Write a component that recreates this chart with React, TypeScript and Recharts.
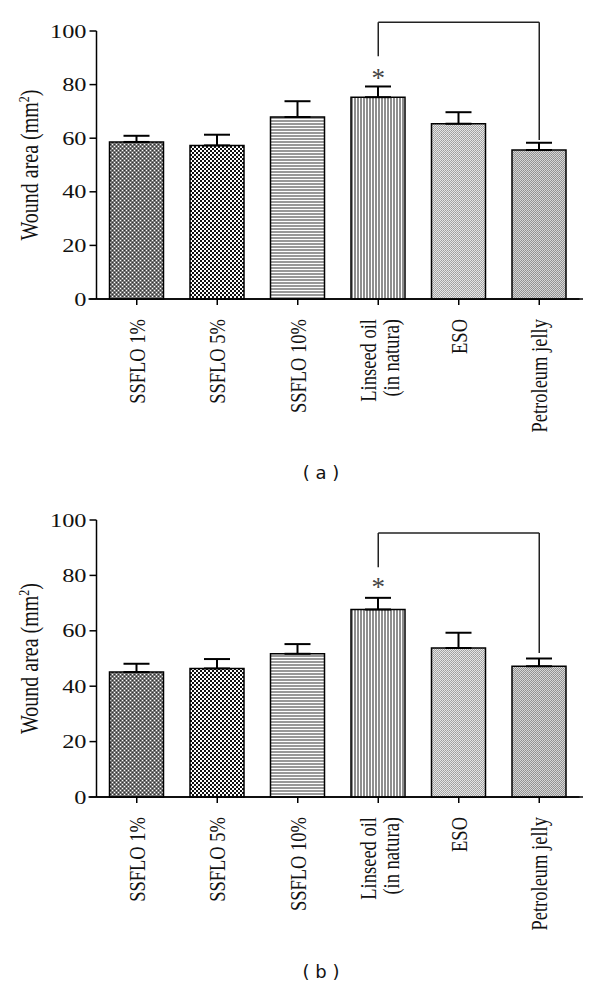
import React from "react";
import {
  Bar,
  BarChart,
  Cell,
  ErrorBar,
  ReferenceDot,
  ReferenceLine,
  XAxis,
  YAxis,
} from "recharts";

const categories = [
  "SSFLO 1%",
  "SSFLO 5%",
  "SSFLO 10%",
  "Linseed oil\n(in natura)",
  "ESO",
  "Petroleum jelly",
];
const yTicks = [0, 20, 40, 60, 80, 100];

// panel (a)
const areaA = [58.6, 57.3, 67.9, 75.3, 65.4, 55.6];
const errA = [2.3, 4.0, 5.9, 4.0, 4.3, 2.7];
// bracket: [top, left foot, right foot], then asterisk height
const bracketA = [103.3, 90.6, 59.3];
const starA = 84.1;

// panel (b)
const areaB = [45.1, 46.4, 51.7, 67.7, 53.8, 47.2];
const errB = [3.0, 3.4, 3.5, 4.2, 5.5, 2.8];
const bracketB = [95.3, 82.9, 52.0];
const starB = 77.2;

const SERIF = '"Liberation Serif", "Times New Roman", serif';
const STRETCH = 1.25;
const CHART_W = 600;
const CHART_H = 470;
const XAXIS_H = 150;
const YAXIS_W = 96.5;

function Patterns({ id }: { id: string }) {
  return (
    <defs>
      <pattern id={`${id}-0`} width={4} height={4} patternUnits="userSpaceOnUse">
        <rect width={4} height={4} fill="#777" />
        <rect x={0} y={0} width={1} height={1} fill="#fff" />
        <rect x={2} y={2} width={1} height={1} fill="#fff" />
        <rect x={2} y={0} width={1} height={1} fill="#333" />
        <rect x={0} y={2} width={1} height={1} fill="#333" />
      </pattern>
      <pattern id={`${id}-1`} width={4} height={4} patternUnits="userSpaceOnUse">
        <rect width={4} height={4} fill="#fff" />
        <rect x={0} y={0} width={2} height={2} fill="#111" />
        <rect x={2} y={2} width={2} height={2} fill="#111" />
      </pattern>
      <pattern id={`${id}-2`} width={4} height={3} patternUnits="userSpaceOnUse">
        <rect width={4} height={3} fill="#fff" />
        <rect x={0} y={0} width={4} height={2} fill="#999" />
      </pattern>
      <pattern id={`${id}-3`} width={3} height={4} patternUnits="userSpaceOnUse">
        <rect width={3} height={4} fill="#fff" />
        <rect x={0} y={0} width={2} height={4} fill="#8e8e8e" />
      </pattern>
      <pattern id={`${id}-4`} width={2} height={2} patternUnits="userSpaceOnUse">
        <rect width={2} height={2} fill="#e6e6e6" />
        <rect x={1} y={0} width={1} height={1} fill="#9e9e9e" />
        <rect x={0} y={1} width={1} height={1} fill="#aaa" />
      </pattern>
      <pattern id={`${id}-5`} width={2} height={2} patternUnits="userSpaceOnUse">
        <rect width={2} height={2} fill="#d6d6d6" />
        <rect x={1} y={0} width={1} height={1} fill="#8e8e8e" />
        <rect x={0} y={1} width={1} height={1} fill="#979797" />
      </pattern>
    </defs>
  );
}

function YTick({ x, y, payload }: any) {
  return (
    <g transform={`translate(${x},${y}) scale(${STRETCH},1)`}>
      <text x={0} y={0} dy="0.34em" textAnchor="end" fontFamily={SERIF} fontSize={19.5} fill="#111">
        {payload.value}
      </text>
    </g>
  );
}

function XTick({ x, y, payload }: any) {
  const lines = String(payload.value).split("\n");
  const gap = 18;
  const first = -((lines.length - 1) * gap) / 2 + (lines.length > 1 ? 1 : 0);
  return (
    <g transform={`translate(${x},${y + 14}) scale(${STRETCH},1) rotate(-90)`}>
      <text textAnchor="end" fontFamily={SERIF} fontSize={18.5} fill="#111">
        {lines.map((l, i) => (
          <tspan key={i} x={0} y={first + i * gap} dy="0.34em">
            {l}
          </tspan>
        ))}
      </text>
    </g>
  );
}

function Star({ cx, cy }: any) {
  return (
    <text x={cx} y={cy + 13} textAnchor="middle" fontFamily={SERIF} fontSize={27} fill="#444">
      *
    </text>
  );
}

type PanelProps = {
  id: string;
  values: number[];
  errors: number[];
  bracket: number[];
  star: number;
  marginTop: number;
  plotH: number;
};

function WoundPanel({ id, values, errors, bracket, star, marginTop, plotH }: PanelProps) {
  const data = categories.map((name, i) => ({
    name,
    area: values[i],
    err: [0, errors[i]],
  }));
  const plotBottom = marginTop + plotH;
  const bracketStyle = {
    stroke: "#222",
    strokeWidth: 1.5,
    ifOverflow: "visible" as const,
  };

  return (
    <BarChart
      width={CHART_W}
      height={CHART_H}
      data={data}
      margin={{
        top: marginTop,
        right: 20.5,
        bottom: CHART_H - plotBottom - XAXIS_H,
        left: 0,
      }}
    >
      <Patterns id={id} />
      <XAxis
        dataKey="name"
        height={XAXIS_H}
        interval={0}
        tickSize={6}
        tickMargin={0}
        axisLine={{ stroke: "#000", strokeWidth: 1.5 }}
        tickLine={{ stroke: "#000", strokeWidth: 1.5 }}
        tick={<XTick />}
      />
      <YAxis
        type="number"
        domain={[0, 100]}
        ticks={yTicks}
        width={YAXIS_W}
        tickSize={7}
        tickMargin={3}
        axisLine={{ stroke: "#000", strokeWidth: 1.5 }}
        tickLine={{ stroke: "#000", strokeWidth: 1.5 }}
        tick={<YTick />}
      />
      <line x1={88.5} x2={583} y1={plotBottom} y2={plotBottom} stroke="#000" strokeWidth={1.5} />
      <g transform={`translate(38,${marginTop + plotH / 2}) scale(${STRETCH},1) rotate(-90)`}>
        <text textAnchor="middle" fontFamily={SERIF} fontSize={20} fill="#111">
          Wound area (mm
          <tspan dy={-7} fontSize={12}>
            2
          </tspan>
          <tspan dy={7}>)</tspan>
        </text>
      </g>
      <Bar dataKey="area" barSize={54} stroke="#000" strokeWidth={1.5} isAnimationActive={false}>
        {data.map((_, i) => (
          <Cell key={i} fill={`url(#${id}-${i})`} />
        ))}
        <ErrorBar dataKey="err" width={13} stroke="#000" strokeWidth={2} direction="y" />
      </Bar>
      <ReferenceLine
        segment={[
          { x: categories[3], y: bracket[0] },
          { x: categories[5], y: bracket[0] },
        ]}
        {...bracketStyle}
      />
      <ReferenceLine
        segment={[
          { x: categories[3], y: bracket[1] },
          { x: categories[3], y: bracket[0] },
        ]}
        {...bracketStyle}
      />
      <ReferenceLine
        segment={[
          { x: categories[5], y: bracket[2] },
          { x: categories[5], y: bracket[0] },
        ]}
        {...bracketStyle}
      />
      <ReferenceDot x={categories[3]} y={star} r={1} shape={<Star />} ifOverflow="visible" />
    </BarChart>
  );
}

const captionStyle: React.CSSProperties = {
  position: "absolute",
  left: 271,
  width: 100,
  textAlign: "center",
  fontFamily: '"DejaVu Sans", Verdana, sans-serif',
  fontSize: 18,
  lineHeight: "20px",
  color: "#111",
};

export default function App() {
  return (
    <div
      style={{
        position: "absolute",
        left: 0,
        top: 0,
        width: 600,
        height: 987,
        background: "#fff",
        overflow: "hidden",
      }}
    >
      <div style={{ position: "absolute", left: 0, top: 0 }}>
        <WoundPanel
          id="pa"
          values={areaA}
          errors={errA}
          bracket={bracketA}
          star={starA}
          marginTop={31}
          plotH={268}
        />
      </div>
      <div style={{ ...captionStyle, top: 463 }}>( a )</div>
      <div style={{ position: "absolute", left: 0, top: 490 }}>
        <WoundPanel
          id="pb"
          values={areaB}
          errors={errB}
          bracket={bracketB}
          star={starB}
          marginTop={30}
          plotH={277}
        />
      </div>
      <div style={{ ...captionStyle, top: 962 }}>( b )</div>
    </div>
  );
}
